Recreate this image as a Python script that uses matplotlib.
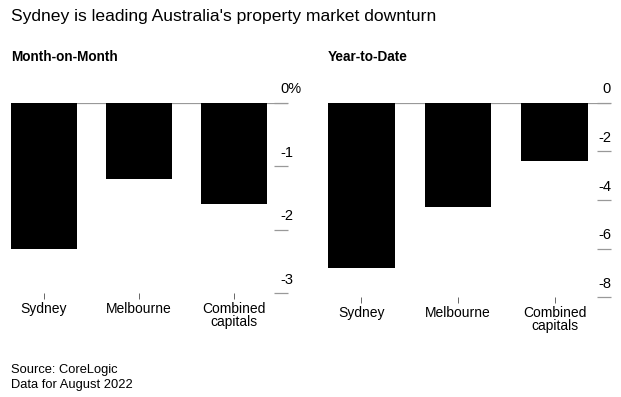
import matplotlib
matplotlib.use("Agg")
import matplotlib.pyplot as plt
from matplotlib.transforms import blended_transform_factory, ScaledTranslation

plt.rcParams['font.family'] = ['Liberation Sans', 'DejaVu Sans']

# data
regions = ['Sydney', 'Melbourne', 'Combined\ncapitals']
mom = [-2.3, -1.2, -1.6]          # month-on-month change, %
ytd = [-6.8, -4.3, -2.4]          # year-to-date change, %
mom_ticks = [0, -1, -2, -3]
mom_labels = ['0%', '-1', '-2', '-3']
ytd_ticks = [0, -2, -4, -6, -8]
ytd_labels = ['0', '-2', '-4', '-6', '-8']

W, H = 621, 397
fig = plt.figure(figsize=(W / 100, H / 100), dpi=100)

GREY = '#999999'


def panel(rect, values, ticks, labels, width, xlim, ha, dx):
    ax = fig.add_axes(rect)
    x = range(len(values))
    ax.bar(x, values, width=width, color='black', zorder=3)
    ax.axhline(0, color=GREY, lw=1.6, zorder=2)
    ax.set_xlim(*xlim)
    ax.set_ylim(ticks[-1], 0)
    for s in ax.spines.values():
        s.set_visible(False)

    # category ticks + labels
    ax.set_xticks(list(x))
    ax.set_xticklabels(regions, fontsize=10, linespacing=0.95)
    ax.tick_params(axis='x', length=4.5, width=0.7, color='#666666', pad=1.5)

    # value ticks: short dashes on the right, label sits above the dash
    ax.yaxis.tick_right()
    ax.set_yticks(ticks)
    ax.tick_params(axis='y', direction='in', length=10.2, width=0.9, color=GREY,
                   labelright=False, labelleft=False)
    tr = blended_transform_factory(ax.transAxes, ax.transData)
    off = ScaledTranslation(dx / 100, 13.3 / 100, fig.dpi_scale_trans)
    for t, lab in zip(ticks, labels):
        ax.text(1, t, lab, transform=tr + off, ha=ha, va='center', fontsize=10.5)
    return ax


panel([11 / W, 1 - 293.3 / H, 277 / W, 190.6 / H], mom, mom_ticks, mom_labels,
      0.695, (-0.3475, 2.568), 'left', -8)
panel([327.7 / W, 1 - 297.3 / H, 283.3 / W, 194.6 / H], ytd, ytd_ticks, ytd_labels,
      0.69, (-0.345, 2.58), 'right', 0)

fig.text(11 / W, 1 - 21.3 / H, "Sydney is leading Australia's property market downturn",
         fontsize=12.6, va='baseline')
fig.text(11 / W, 1 - 61 / H, 'Month-on-Month', fontsize=9.8, fontweight='bold', va='baseline')
fig.text(328 / W, 1 - 61 / H, 'Year-to-Date', fontsize=9.8, fontweight='bold', va='baseline')
fig.text(11 / W, 1 - 373.3 / H, 'Source: CoreLogic', fontsize=9.3, va='baseline')
fig.text(11 / W, 1 - 387.7 / H, 'Data for August 2022', fontsize=9.3, va='baseline')

fig.savefig('out.png', dpi=100)
